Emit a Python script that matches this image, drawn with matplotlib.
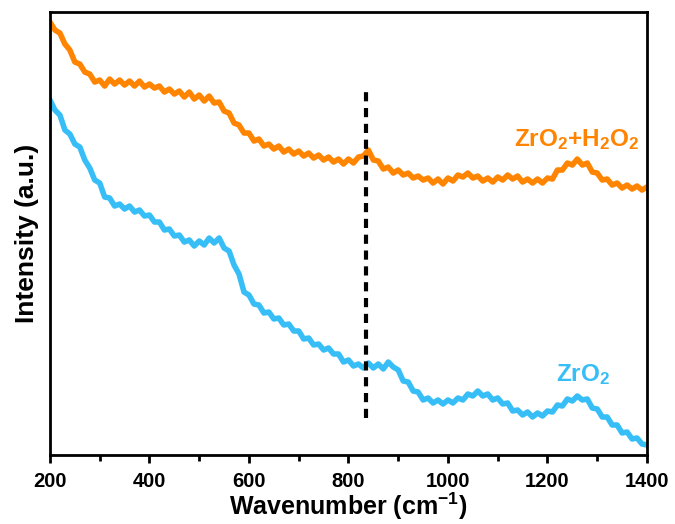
# Raman spectra of ZrO2 and ZrO2+H2O2

import numpy as np
import matplotlib.pyplot as plt

plt.rcParams["font.family"] = ["Liberation Sans", "DejaVu Sans"]
plt.rcParams["font.weight"] = "bold"
plt.rcParams["mathtext.fontset"] = "custom"
plt.rcParams["mathtext.rm"] = "Liberation Sans:bold"
plt.rcParams["mathtext.bf"] = "Liberation Sans:bold"
plt.rcParams["mathtext.it"] = "Liberation Sans:bold"

# -------------------------------------------------------
# DATA
# -------------------------------------------------------
wavenumber = np.arange(200, 1401, 10)

zro2_h2o2 = [
    433, 425, 422, 411, 405, 393, 391, 383, 381, 373,
    375, 369, 376, 371, 375, 370, 374, 369, 374, 368,
    371, 367, 369, 363, 366, 361, 364, 358, 363, 356,
    360, 354, 359, 352, 353, 344, 342, 332, 330, 322,
    322, 314, 316, 309, 311, 306, 309, 303, 306, 301,
    304, 299, 302, 297, 300, 295, 298, 293, 296, 291,
    296, 292, 298, 299, 305, 295, 294, 286, 288, 282,
    285, 280, 282, 277, 279, 275, 277, 272, 276, 271,
    277, 274, 280, 278, 282, 277, 279, 274, 277, 273,
    278, 275, 280, 276, 279, 273, 276, 272, 276, 272,
    277, 276, 285, 285, 292, 290, 296, 290, 292, 283,
    282, 275, 276, 270, 272, 267, 270, 266, 269, 265,
    268,
]

zro2 = [
    355, 345, 340, 325, 321, 311, 308, 295, 287, 275,
    272, 258, 257, 249, 251, 246, 249, 243, 245, 239,
    240, 233, 233, 225, 226, 219, 220, 213, 215, 209,
    214, 210, 217, 212, 217, 207, 204, 190, 181, 163,
    160, 151, 150, 142, 143, 136, 137, 130, 131, 124,
    124, 116, 117, 110, 111, 105, 107, 101, 101, 93,
    95, 89, 91, 87, 92, 87, 91, 86, 93, 88,
    85, 74, 73, 64, 63, 55, 57, 52, 55, 51,
    55, 52, 57, 55, 61, 59, 64, 59, 61, 55,
    57, 51, 52, 44, 45, 40, 43, 38, 42, 39,
    44, 43, 50, 49, 56, 54, 59, 55, 56, 47,
    46, 38, 38, 30, 30, 22, 23, 16, 17, 11,
    10,
]

marker_position = 835
labels = ["ZrO$_2$+H$_2$O$_2$", "ZrO$_2$"]
colors = ["#FF8400", "#38BEF7"]

# -------------------------------------------------------
# PLOT
# -------------------------------------------------------
fig = plt.figure(figsize=(6.75, 5.24), dpi=100)
ax = fig.add_axes([0.074, 0.1317, 0.8845, 0.8453])

ax.plot(wavenumber, zro2_h2o2, color=colors[0], lw=4)
ax.plot(wavenumber, zro2, color=colors[1], lw=4)

# dashed marker line
ax.plot([marker_position, marker_position], [37, 367], color="black",
        lw=3, linestyle=(0, (2.2, 1.6)))

ax.text(1259, 315, labels[0], color=colors[0], fontsize=17.5,
        fontweight="bold", ha="center", va="center")
ax.text(1271, 80, labels[1], color=colors[1], fontsize=17.5,
        fontweight="bold", ha="center", va="center")

ax.set_xlim(200, 1400)
ax.set_ylim(0, 443)
ax.set_xticks(range(200, 1401, 200))
ax.set_xticks(range(300, 1400, 200), minor=True)
ax.set_yticks([])

ax.tick_params(axis="x", which="major", direction="out", length=6,
               width=2, labelsize=14.5, pad=6)
ax.tick_params(axis="x", which="minor", direction="out", length=4, width=2)
for lab in ax.get_xticklabels():
    lab.set_fontweight("bold")

for spine in ax.spines.values():
    spine.set_linewidth(2)

ax.set_xlabel("Wavenumber (cm$^{-1}$)", fontsize=18, fontweight="bold", labelpad=0)
ax.set_ylabel("Intensity (a.u.)", fontsize=19, fontweight="bold", labelpad=8)

plt.savefig("out.png", dpi=100)
